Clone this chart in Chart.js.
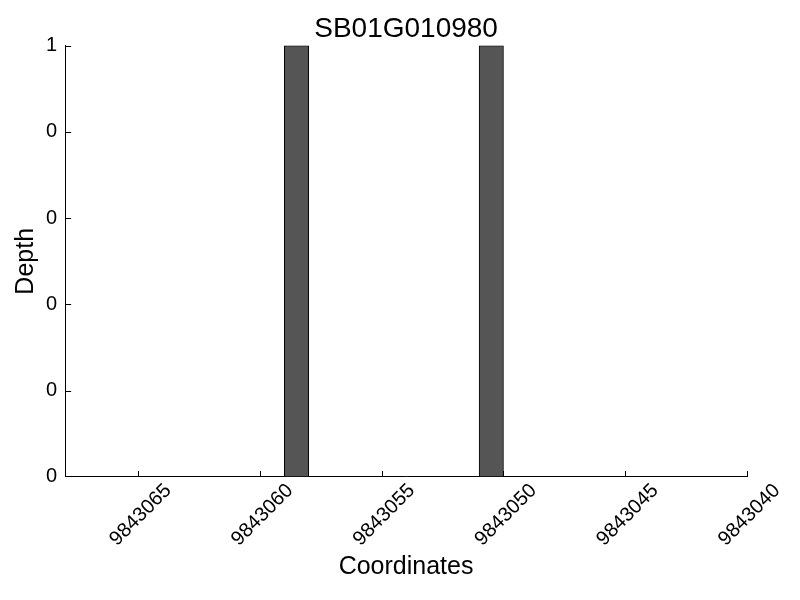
<!DOCTYPE html>
<html>
<head>
<meta charset="utf-8">
<script src="https://cdn.jsdelivr.net/npm/chart.js@4.4.0/dist/chart.umd.min.js"></script>
<style>
  html, body { margin: 0; padding: 0; background: #fff; }
  #wrap { width: 800px; height: 600px; }
</style>
</head>
<body>
<div id="wrap"><canvas id="depth-chart" width="800" height="600"></canvas></div>
<script>
// 좌표별 depth (bar는 좌표에서 시작, 폭 1)
const coordinates = [
  9843040, 9843041, 9843042, 9843043, 9843044, 9843045, 9843046,
  9843047, 9843048, 9843049, 9843050, 9843051, 9843052, 9843053,
  9843054, 9843055, 9843056, 9843057, 9843058, 9843059, 9843060,
  9843061, 9843062, 9843063, 9843064, 9843065, 9843066, 9843067
];
const depth = [
  0, 0, 0, 0, 0, 0, 0,
  0, 0, 0, 1, 0, 0, 0,
  0, 0, 0, 0, 1, 0, 0,
  0, 0, 0, 0, 0, 0, 0
];

// 축 범위, 눈금
const xMin = 9843040;
const xMax = 9843068;
const xTicks = [9843065, 9843060, 9843055, 9843050, 9843045, 9843040];
const xTickLabels = ['9843065', '9843060', '9843055', '9843050', '9843045', '9843040'];
const yTicks = [0, 0.2, 0.4, 0.6, 0.8, 1];
const yTickLabels = ['0', '0', '0', '0', '0', '1'];

const FONT = "'Liberation Sans', Arial, Helvetica, sans-serif";

// 안쪽으로 향하는 눈금 그리기
const inwardTicks = {
  id: 'inwardTicks',
  afterDatasetsDraw(chart) {
    const { ctx, chartArea, scales } = chart;
    ctx.save();
    ctx.strokeStyle = '#000';
    ctx.lineWidth = 1;
    ctx.beginPath();
    scales.x.ticks.forEach(t => {
      const px = Math.round(scales.x.getPixelForValue(t.value)) + 0.5;
      ctx.moveTo(px, chartArea.bottom);
      ctx.lineTo(px, chartArea.bottom - 6);
    });
    scales.y.ticks.forEach(t => {
      const py = Math.round(scales.y.getPixelForValue(t.value)) + 0.5;
      // x축과 겹치는 눈금은 생략
      if (Math.abs(py - chartArea.bottom) < 2) return;
      ctx.moveTo(chartArea.left, py);
      ctx.lineTo(chartArea.left + 6, py);
    });
    ctx.stroke();
    ctx.restore();
  }
};

const ctx = document.getElementById('depth-chart').getContext('2d');
new Chart(ctx, {
  type: 'bar',
  data: {
    datasets: [{
      label: 'Depth',
      data: coordinates.map((c, i) => ({ x: c + 0.5, y: depth[i] })),
      backgroundColor: '#555555',
      borderColor: '#000000',
      borderWidth: 1,
      borderSkipped: false,
      barPercentage: 1,
      categoryPercentage: 1
    }]
  },
  options: {
    responsive: false,
    animation: false,
    layout: { padding: { left: 11.5, right: 53, top: 0, bottom: 18 } },
    plugins: {
      legend: { display: false },
      tooltip: { enabled: false },
      title: {
        display: true,
        fullSize: false,
        text: 'SB01G010980',
        color: '#000',
        font: { family: FONT, size: 28, weight: 'normal' },
        padding: { top: 12, bottom: 0 }
      }
    },
    scales: {
      x: {
        type: 'linear',
        reverse: true,
        min: xMin,
        max: xMax,
        offset: false,
        afterBuildTicks: (scale) => {
          scale.ticks = xTicks.map(v => ({ value: v }));
        },
        // 회전된 라벨 때문에 생기는 여백 제거
        afterFit: (scale) => {
          scale.paddingLeft = 0;
          scale.paddingRight = 0;
        },
        grid: { display: false, drawTicks: false },
        border: { display: true, color: '#000', width: 1 },
        ticks: {
          autoSkip: false,
          minRotation: 45,
          maxRotation: 45,
          labelOffset: 30,
          padding: 2,
          color: '#000',
          font: { family: FONT, size: 20 },
          callback: (v, i) => xTickLabels[i]
        },
        title: {
          display: true,
          text: 'Coordinates',
          color: '#000',
          font: { family: FONT, size: 25 },
          padding: { top: -1, bottom: 0 }
        }
      },
      y: {
        min: 0,
        max: 1,
        afterBuildTicks: (scale) => {
          scale.ticks = yTicks.map(v => ({ value: v }));
        },
        grid: { display: false, drawTicks: false },
        border: { display: true, color: '#000', width: 1 },
        ticks: {
          padding: 8,
          color: '#000',
          font: { family: FONT, size: 20 },
          callback: (v, i) => yTickLabels[i]
        },
        title: {
          display: true,
          text: 'Depth',
          color: '#000',
          font: { family: FONT, size: 25 },
          padding: { top: 0, bottom: -3.5 }
        }
      }
    }
  },
  plugins: [inwardTicks]
});
</script>
</body>
</html>
